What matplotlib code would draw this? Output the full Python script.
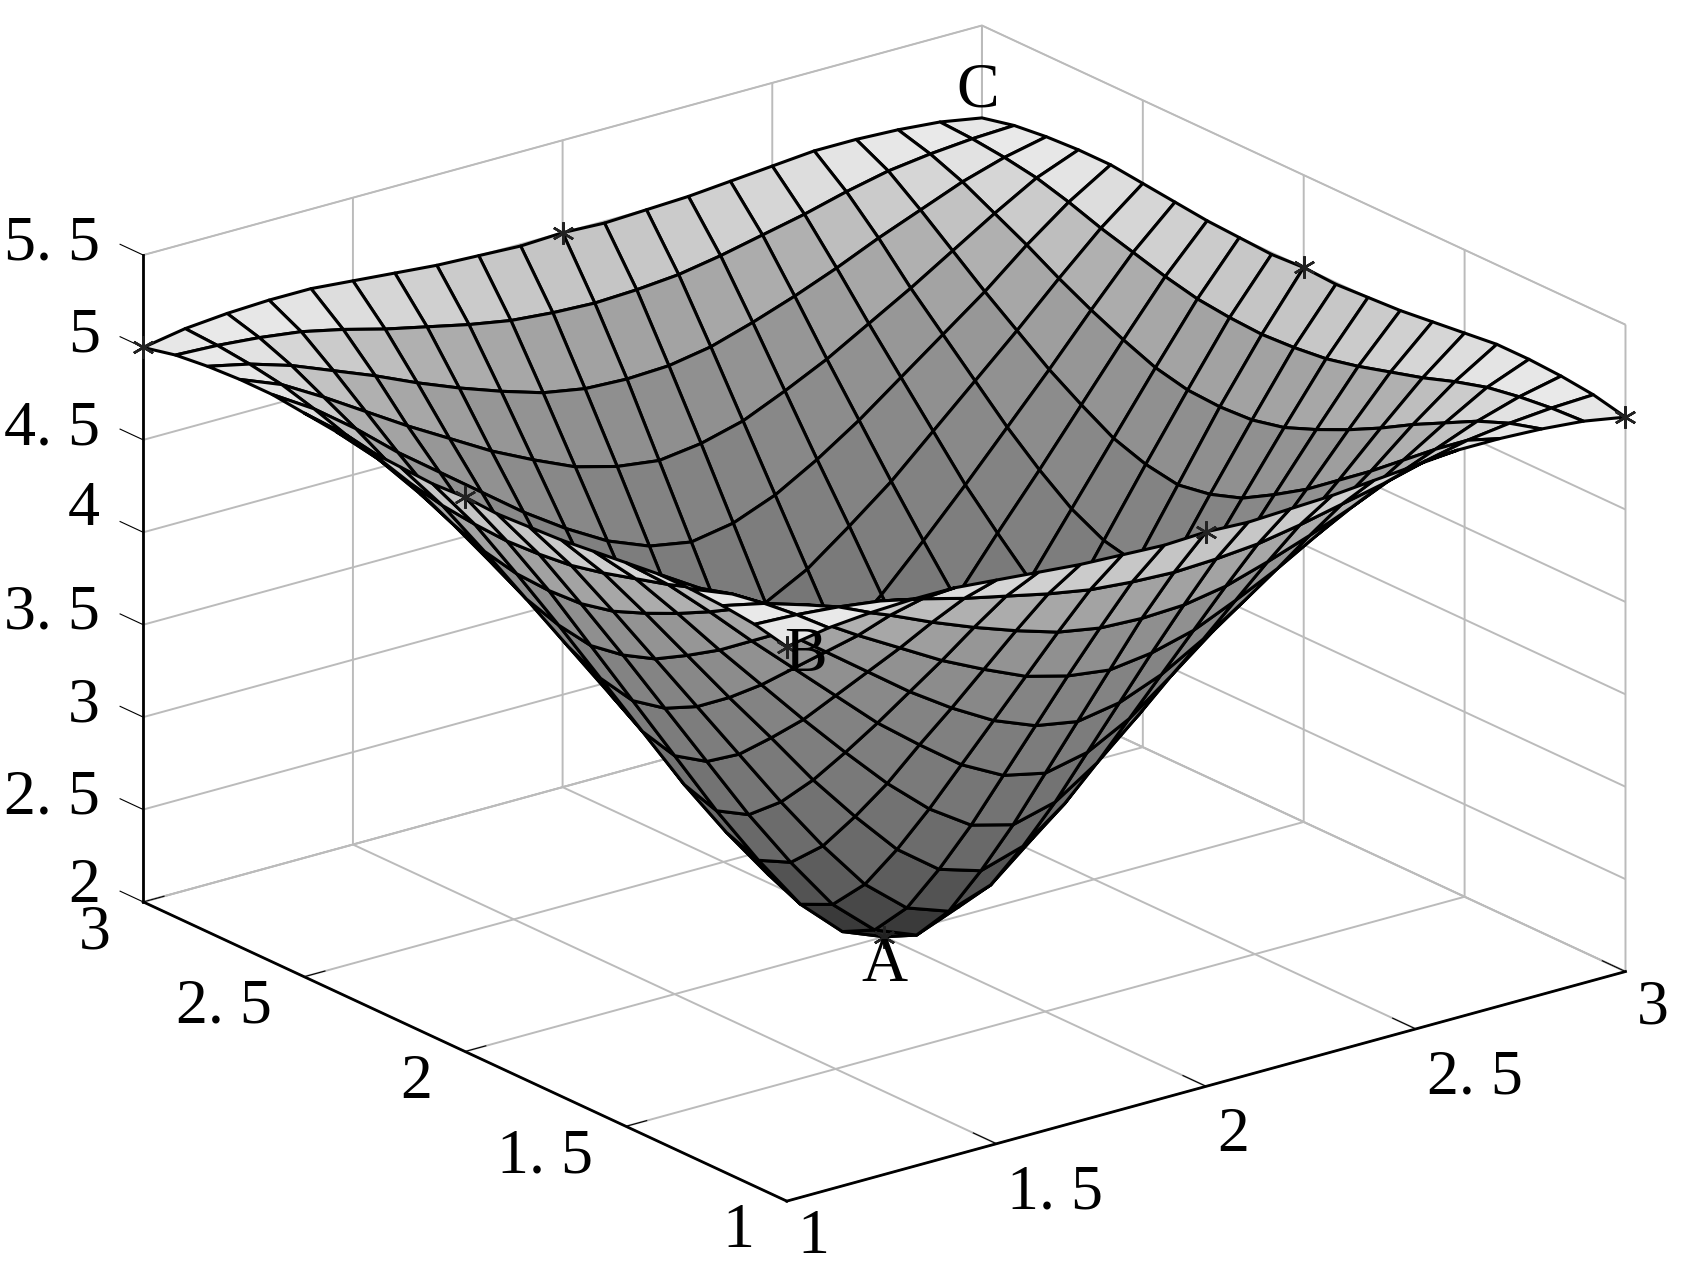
#! /usr/bin/env python3

import numpy as np
import matplotlib
matplotlib.use("Agg")
import matplotlib.pyplot as plt
from matplotlib.colors import LinearSegmentedColormap

plt.rcParams["font.family"] = ["Liberation Serif", "DejaVu Serif"]

# grid axes, step 0.1
x_values = [1.0, 1.1, 1.2, 1.3, 1.4, 1.5, 1.6, 1.7, 1.8, 1.9, 2.0,
            2.1, 2.2, 2.3, 2.4, 2.5, 2.6, 2.7, 2.8, 2.9, 3.0]
y_values = list(x_values)

# surface heights, rows are y, columns are x
z_values = [
    [5.00, 5.04, 5.06, 5.07, 5.07, 5.05, 5.03, 5.01, 5.00, 4.99, 5.00, 4.99, 5.00, 5.01, 5.03, 5.05, 5.07, 5.07, 5.06, 5.04, 5.00],
    [5.04, 5.03, 5.01, 4.98, 4.93, 4.87, 4.82, 4.77, 4.73, 4.71, 4.70, 4.71, 4.73, 4.77, 4.82, 4.87, 4.93, 4.98, 5.01, 5.03, 5.04],
    [5.06, 5.01, 4.94, 4.85, 4.76, 4.66, 4.57, 4.49, 4.42, 4.38, 4.37, 4.38, 4.42, 4.49, 4.57, 4.66, 4.76, 4.85, 4.94, 5.01, 5.06],
    [5.07, 4.98, 4.85, 4.71, 4.57, 4.44, 4.31, 4.20, 4.10, 4.04, 4.01, 4.04, 4.10, 4.20, 4.31, 4.44, 4.57, 4.71, 4.85, 4.98, 5.07],
    [5.07, 4.93, 4.76, 4.57, 4.40, 4.23, 4.06, 3.91, 3.78, 3.69, 3.65, 3.69, 3.78, 3.91, 4.06, 4.23, 4.40, 4.57, 4.76, 4.93, 5.07],
    [5.05, 4.87, 4.66, 4.44, 4.23, 4.02, 3.81, 3.63, 3.46, 3.34, 3.29, 3.34, 3.46, 3.63, 3.81, 4.02, 4.23, 4.44, 4.66, 4.87, 5.05],
    [5.03, 4.82, 4.57, 4.31, 4.06, 3.81, 3.57, 3.34, 3.14, 2.99, 2.93, 2.99, 3.14, 3.34, 3.57, 3.81, 4.06, 4.31, 4.57, 4.82, 5.03],
    [5.01, 4.77, 4.49, 4.20, 3.91, 3.63, 3.34, 3.08, 2.84, 2.67, 2.60, 2.67, 2.84, 3.08, 3.34, 3.63, 3.91, 4.20, 4.49, 4.77, 5.01],
    [5.00, 4.73, 4.42, 4.10, 3.78, 3.46, 3.14, 2.84, 2.57, 2.38, 2.30, 2.38, 2.57, 2.84, 3.14, 3.46, 3.78, 4.10, 4.42, 4.73, 5.00],
    [4.99, 4.71, 4.38, 4.04, 3.69, 3.34, 2.99, 2.67, 2.38, 2.18, 2.09, 2.18, 2.38, 2.67, 2.99, 3.34, 3.69, 4.04, 4.38, 4.71, 4.99],
    [5.00, 4.70, 4.37, 4.01, 3.65, 3.29, 2.93, 2.60, 2.30, 2.09, 2.00, 2.09, 2.30, 2.60, 2.93, 3.29, 3.65, 4.01, 4.37, 4.70, 5.00],
    [4.99, 4.71, 4.38, 4.04, 3.69, 3.34, 2.99, 2.67, 2.38, 2.18, 2.09, 2.18, 2.38, 2.67, 2.99, 3.34, 3.69, 4.04, 4.38, 4.71, 4.99],
    [5.00, 4.73, 4.42, 4.10, 3.78, 3.46, 3.14, 2.84, 2.57, 2.38, 2.30, 2.38, 2.57, 2.84, 3.14, 3.46, 3.78, 4.10, 4.42, 4.73, 5.00],
    [5.01, 4.77, 4.49, 4.20, 3.91, 3.63, 3.34, 3.08, 2.84, 2.67, 2.60, 2.67, 2.84, 3.08, 3.34, 3.63, 3.91, 4.20, 4.49, 4.77, 5.01],
    [5.03, 4.82, 4.57, 4.31, 4.06, 3.81, 3.57, 3.34, 3.14, 2.99, 2.93, 2.99, 3.14, 3.34, 3.57, 3.81, 4.06, 4.31, 4.57, 4.82, 5.03],
    [5.05, 4.87, 4.66, 4.44, 4.23, 4.02, 3.81, 3.63, 3.46, 3.34, 3.29, 3.34, 3.46, 3.63, 3.81, 4.02, 4.23, 4.44, 4.66, 4.87, 5.05],
    [5.07, 4.93, 4.76, 4.57, 4.40, 4.23, 4.06, 3.91, 3.78, 3.69, 3.65, 3.69, 3.78, 3.91, 4.06, 4.23, 4.40, 4.57, 4.76, 4.93, 5.07],
    [5.07, 4.98, 4.85, 4.71, 4.57, 4.44, 4.31, 4.20, 4.10, 4.04, 4.01, 4.04, 4.10, 4.20, 4.31, 4.44, 4.57, 4.71, 4.85, 4.98, 5.07],
    [5.06, 5.01, 4.94, 4.85, 4.76, 4.66, 4.57, 4.49, 4.42, 4.38, 4.37, 4.38, 4.42, 4.49, 4.57, 4.66, 4.76, 4.85, 4.94, 5.01, 5.06],
    [5.04, 5.03, 5.01, 4.98, 4.93, 4.87, 4.82, 4.77, 4.73, 4.71, 4.70, 4.71, 4.73, 4.77, 4.82, 4.87, 4.93, 4.98, 5.01, 5.03, 5.04],
    [5.00, 5.04, 5.06, 5.07, 5.07, 5.05, 5.03, 5.01, 5.00, 4.99, 5.00, 4.99, 5.00, 5.01, 5.03, 5.05, 5.07, 5.07, 5.06, 5.04, 5.00],
]

# asterisks on the rim and at the bottom, none shows at the back corner C
star_x = [1, 2, 1, 3, 1, 2, 3, 2]
star_y = [3, 3, 2, 2, 1, 1, 1, 2]
star_z = [5.0, 5.0, 5.0, 5.0, 5.0, 5.0, 5.0, 2.0]

xy_ticks = [1, 1.5, 2, 2.5, 3]
xy_ticklabels = ["1", "1. 5", "2", "2. 5", "3"]
z_ticks = [2, 2.5, 3, 3.5, 4, 4.5, 5, 5.5]
z_ticklabels = ["2", "2. 5", "3", "3. 5", "4", "4. 5", "5", "5. 5"]

# gray level against height
gray_z = [2.0, 2.2, 2.5, 2.8, 3.3, 3.9, 4.4, 4.75, 4.95, 5.08]
gray_level = [35, 55, 85, 105, 120, 132, 150, 178, 215, 240]

FS = 46
GRID = "#bbbbbb"

X, Y = np.meshgrid(x_values, y_values)
Z = np.array(z_values)

zlo, zhi = gray_z[0], gray_z[-1]
cmap = LinearSegmentedColormap.from_list(
    "rim_gray",
    [((z - zlo) / (zhi - zlo), (g / 255,) * 3) for z, g in zip(gray_z, gray_level)],
)

fig = plt.figure(figsize=(17.03, 12.76), dpi=100)
ax = fig.add_axes([0.0186, 0.012, 0.9814, 0.988], projection="3d", computed_zorder=False)
ax.set_proj_type("ortho")
ax.view_init(elev=20.9, azim=-127.5)
ax.set_box_aspect((1, 1, 0.655), zoom=1.2687)

surf = ax.plot_surface(X, Y, Z, rstride=1, cstride=1, cmap=cmap, vmin=zlo, vmax=zhi,
                       shade=False, edgecolor="black", linewidth=2.2,
                       antialiased=True, zorder=2)
surf.set_clip_on(False)
stars, = ax.plot(star_x, star_y, star_z, linestyle="None", marker=(6, 2, 0), markersize=16,
                 markeredgewidth=1.8, color="#222222", zorder=3)
stars.set_clip_on(False)

ax.set_xlim(1, 3)
ax.set_ylim(1, 3)
ax.set_zlim(2, 5.5)
ax.set_xticks(xy_ticks)
ax.set_yticks(xy_ticks)
ax.set_zticks(z_ticks)

# z axis on the left edge, its ticks run along y as in the reference
ax.zaxis.set_ticks_position("upper")
ax.zaxis._get_tickdir = lambda pos: 1

for axis, factor in ((ax.xaxis, 0.45), (ax.yaxis, 0.31), (ax.zaxis, 0.45)):
    axis.set_pane_color((1, 1, 1, 1))
    axis.pane.set_edgecolor(GRID)
    axis.line.set_color("black")
    axis.line.set_linewidth(2.0)
    axis._axinfo["grid"].update(color=GRID, linewidth=1.4)
    axis._axinfo["tick"].update(inward_factor=0.0, outward_factor=factor)
    axis.offsetText.set_visible(False)
    axis.label.set_visible(False)
    axis.set_tick_params(label1On=False, label2On=False)
ax.tick_params(width=2.0, color="black")

# tick labels by hand, the 3D axes can't shift them in screen y on their own
x_label_drop = [0.17, 0.24, 0.24, 0.24, 0.17]
for t, lab, drop in zip(xy_ticks, xy_ticklabels, x_label_drop):
    ax.text(t, 1 - 0.034, 2 - drop, lab, fontsize=FS, ha="left", va="center", zorder=4)
for t, lab in zip(xy_ticks, xy_ticklabels):
    ax.text(1 - 0.078, t, 2 - 0.12, lab, fontsize=FS, ha="right", va="center", zorder=4)
z_label_lift = [0.02, 0, 0, 0, 0.06, 0, 0, 0]
for t, lab, lift in zip(z_ticks, z_ticklabels, z_label_lift):
    ax.text(1, 3 + 0.134, t - 0.05 + lift, lab, fontsize=FS, ha="right", va="center", zorder=4)

ax.text(2.99, 3, 5.15, "C", fontsize=FS, ha="center", va="center", zorder=4)
ax.text(1.045, 1, 4.92, "B", fontsize=FS, ha="center", va="center", zorder=4)
ax.text(2, 2, 1.84, "A", fontsize=FS, ha="center", va="center", zorder=4)

fig.savefig("out.png", dpi=100)
